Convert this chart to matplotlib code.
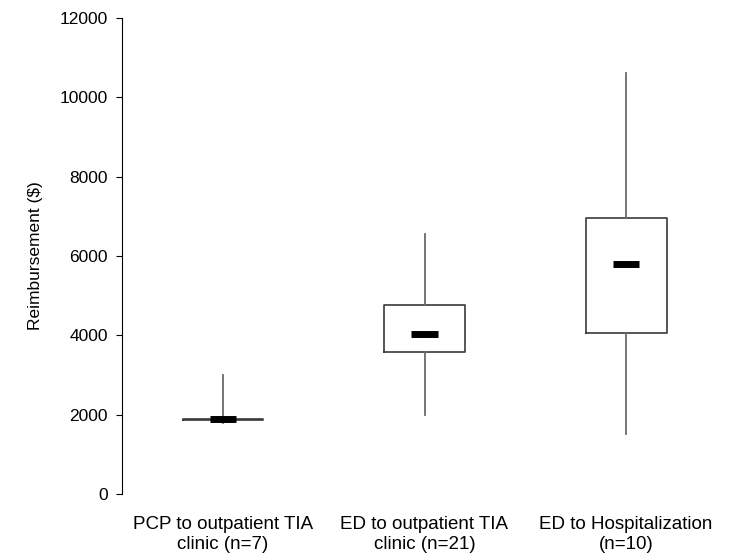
import matplotlib
matplotlib.use("Agg")
import matplotlib.pyplot as plt

plt.rcParams["font.family"] = ["Liberation Sans", "DejaVu Sans"]

groups = ["PCP to outpatient TIA\nclinic (n=7)",
          "ED to outpatient TIA\nclinic (n=21)",
          "ED to Hospitalization\n(n=10)"]
whislo = [1780, 1990, 1510]
q1 = [1860, 3580, 4050]
med = [1880, 4030, 5800]
q3 = [1880, 4760, 6950]
whishi = [3000, 6550, 10610]
yticks = [0, 2000, 4000, 6000, 8000, 10000, 12000]

fig = plt.figure(figsize=(7.32, 5.58), dpi=100)
ax = fig.add_axes([122 / 732, 64 / 558, 605 / 732, 476 / 558])

pos = [1, 2, 3]
stats = [dict(whislo=a, q1=b, med=c, q3=d, whishi=e, fliers=[])
         for a, b, c, d, e in zip(whislo, q1, med, q3, whishi)]
ax.bxp(stats, positions=pos, widths=0.40, showcaps=False, showfliers=False,
       boxprops=dict(color="#3a3a3a", lw=1.2),
       whiskerprops=dict(color="#6a6a6a", lw=1.3),
       medianprops=dict(visible=False))
ax.hlines(med, [p - 0.065 for p in pos], [p + 0.065 for p in pos],
          color="black", lw=5, zorder=5)

ax.set_xlim(0.5, 3.5)
ax.set_ylim(0, 12000)
ax.set_yticks(yticks)
ax.set_xticks(pos)
ax.set_xticklabels(groups, fontsize=13.5, linespacing=1.18)
ax.tick_params(axis="x", length=0, pad=16)
ax.tick_params(axis="y", labelsize=12.5, length=4, direction="out", pad=6)
for s in ["top", "right", "bottom"]:
    ax.spines[s].set_visible(False)
ax.set_ylabel("Reimbursement ($)", fontsize=12.5, labelpad=12)

fig.savefig("out.png", dpi=100)
